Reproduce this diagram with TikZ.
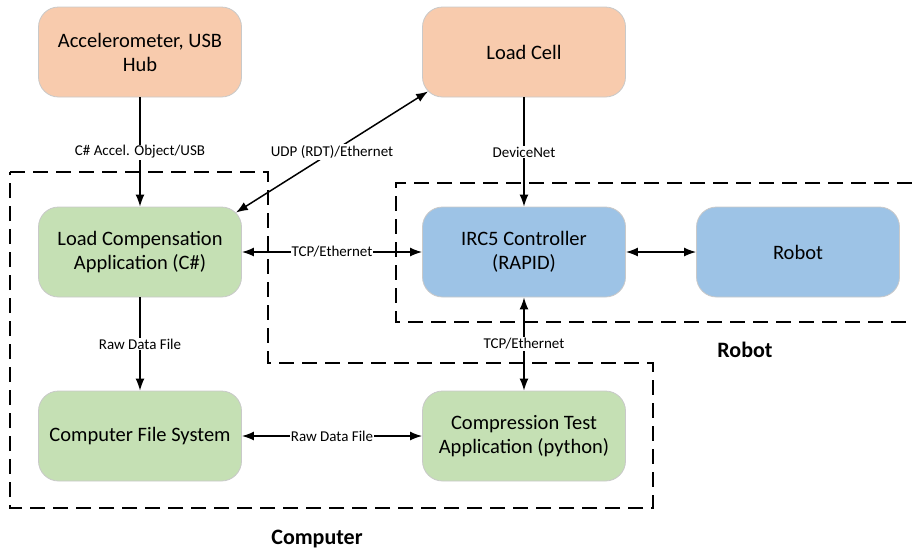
\documentclass[tikz,border=0pt]{standalone}
\usepackage{fontspec}
\setmainfont{Carlito}
\usetikzlibrary{arrows.meta,calc}
\definecolor{cOrange}{HTML}{F8CBAD}
\definecolor{cGreen}{HTML}{C5E0B4}
\definecolor{cBlue}{HTML}{9DC3E6}
\definecolor{cBorder}{HTML}{C9C9C9}
\begin{document}
\begin{tikzpicture}[x=1pt,y=-1pt,
  box/.style={draw=cBorder, line width=0.8pt, rounded corners=20pt,
    minimum width=203pt, minimum height=90pt, align=center,
    font=\fontsize{20.5}{24}\selectfont, inner sep=0pt},
  obox/.style={box, fill=cOrange},
  gbox/.style={box, fill=cGreen},
  bbox/.style={box, fill=cBlue},
  conn/.style={line width=1.5pt, -{Latex[length=12pt,width=9pt]}},
  bconn/.style={line width=1.5pt, {Latex[length=12pt,width=9pt]}-{Latex[length=12pt,width=9pt]}},
  lbl/.style={fill=white, inner sep=1pt, font=\fontsize{15}{18}\selectfont},
  region/.style={line width=1.5pt, dash pattern=on 15pt off 8pt},
  rlabel/.style={font=\fontsize{22}{26}\selectfont\bfseries}
]
\useasboundingbox (0,0) rectangle (912,550);

% regions
\draw[region] (10,172) -- (268,172) -- (268,363) -- (653,363) -- (653,508) -- (10,508) -- cycle;
\draw[region] (912,183) -- (396,183) -- (396,322) -- (912,322);

% nodes
\node[obox] (acc) at (140,52) {Accelerometer, USB\\Hub};
\node[obox] (cell) at (524,52) {Load Cell};
\node[gbox] (lca) at (140,252) {Load Compensation\\Application (C\#)};
\node[bbox] (irc) at (524,252) {IRC5 Controller\\(RAPID)};
\node[bbox] (robot) at (798,252) {Robot};
\node[gbox] (cfs) at (140,436) {Computer File System};
\node[gbox] (cta) at (524,436) {Compression Test\\Application (python)};

\node[rlabel] (rlab) at (745,350) {Robot};
\node[rlabel] (clab) at (317,539) {Computer};

% connectors
\draw[conn] (acc) -- node[lbl] {C\# Accel. Object/USB} (lca);
\draw[bconn] ($(cell.south west)+(6,-6)$) -- node[lbl] {UDP (RDT)/Ethernet} ($(lca.north east)+(-6,6)$);
\draw[conn] (cell) -- node[lbl] {DeviceNet} (irc);
\draw[bconn] (lca) -- node[lbl] {TCP/Ethernet} (irc);
\draw[bconn] (irc) -- (robot);
\draw[conn] (lca) -- node[lbl] {Raw Data File} (cfs);
\draw[bconn] (irc) -- node[lbl] {TCP/Ethernet} (cta);
\draw[bconn] (cfs) -- node[lbl] {Raw Data File} (cta);
\end{tikzpicture}
\end{document}
